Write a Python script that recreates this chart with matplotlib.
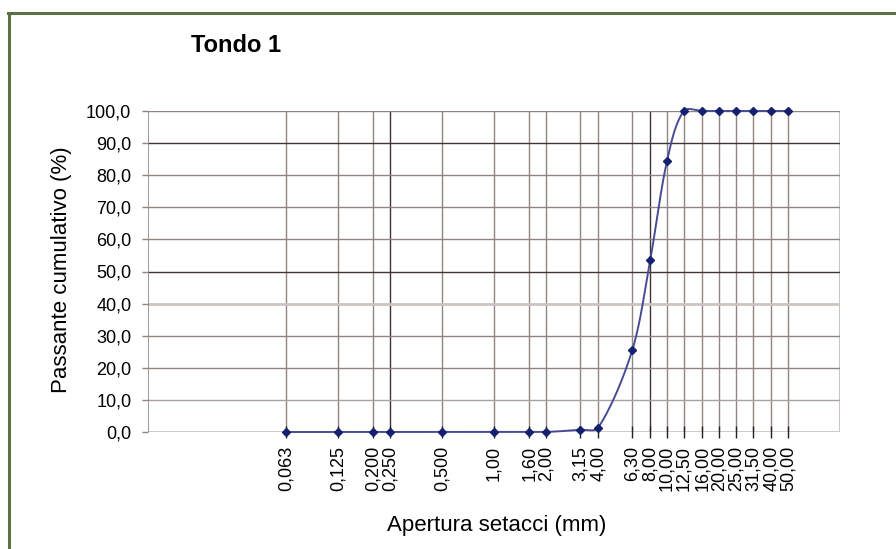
import numpy as np
import matplotlib
matplotlib.use("Agg")
import matplotlib.pyplot as plt
from matplotlib.lines import Line2D

plt.rcParams['font.family'] = ['Liberation Sans', 'DejaVu Sans']

# ---- data ----
sieves = [0.063, 0.125, 0.200, 0.250, 0.500, 1.00, 1.60, 2.00, 3.15, 4.00,
          6.30, 8.00, 10.00, 12.50, 16.00, 20.00, 25.00, 31.50, 40.00, 50.00]
sieve_labels = ["0,063", "0,125", "0,200", "0,250", "0,500", "1,00", "1,60", "2,00",
                "3,15", "4,00", "6,30", "8,00", "10,00", "12,50", "16,00", "20,00",
                "25,00", "31,50", "40,00", "50,00"]
passing = [0.0, 0.0, 0.0, 0.0, 0.0, 0.0, 0.0, 0.0, 0.7, 1.3,
           25.5, 53.6, 84.4, 100.0, 100.0, 100.0, 100.0, 100.0, 100.0, 100.0]
y_ticks = [0, 10, 20, 30, 40, 50, 60, 70, 80, 90, 100]
y_labels = ["0,0", "10,0", "20,0", "30,0", "40,0", "50,0", "60,0", "70,0", "80,0", "90,0", "100,0"]
title = "Tondo 1"
xlabel = "Apertura setacci (mm)"
ylabel = "Passante cumulativo (%)"

W, H = 896, 549
fig = plt.figure(figsize=(W / 100, H / 100), dpi=100)
ax_l, ax_r, ax_t, ax_b = 148, 840, 111, 432
ax = fig.add_axes([ax_l / W, 1 - ax_b / H, (ax_r - ax_l) / W, (ax_b - ax_t) / H])
ax.set_xscale('log')
ax.set_xlim(0.01, 100)
ax.set_ylim(0, 100)

# gridlines
grid_med = '#8f8682'
grid_dark = '#3e3431'
grid_light = '#cbc4c0'
dark_x = {0.250, 8.00}
for s in sieves:
    c = grid_dark if s in dark_x else grid_med
    ax.axvline(s, color=c, lw=1.0, zorder=1)
ax.axvline(100, color=grid_light, lw=1.5, zorder=1)
ycol = {0: grid_light, 10: '#aaa29e', 40: grid_light, 50: grid_dark, 90: grid_dark}
for yv in y_ticks:
    c = ycol.get(yv, grid_med)
    lw = 2.0 if c == grid_light else 1.0
    ax.axhline(yv, color=c, lw=lw, zorder=1)
ax.axvline(0.01, color=grid_med, lw=1.2, zorder=1)

for sp in ax.spines.values():
    sp.set_visible(False)

# smoothed curve (Bezier smoothing, like a spreadsheet "smoothed line") in pixel space
px_per_dec = (ax_r - ax_l) / 4.0
px_per_unit = (ax_b - ax_t) / 100.0
P = np.column_stack([np.log10(sieves) * px_per_dec, np.array(passing) * px_per_unit])
n = len(P)
T = np.zeros_like(P)
for i in range(n):
    a = P[i - 1] if i > 0 else P[i]
    b = P[i + 1] if i + 1 < n else P[i]
    d = b - a
    T[i] = d / (np.linalg.norm(d) + 1e-12)
curve = []
for i in range(n - 1):
    p1, p2 = P[i], P[i + 1]
    L = np.linalg.norm(p2 - p1)
    c1 = p1 + T[i] * L * 0.3
    c2 = p2 - T[i + 1] * L * 0.3
    t = np.linspace(0, 1, 30)[:, None]
    seg = ((1 - t) ** 3) * p1 + 3 * ((1 - t) ** 2) * t * c1 + 3 * (1 - t) * t ** 2 * c2 + t ** 3 * p2
    curve.append(seg)
curve = np.vstack(curve)
cx = 10 ** (curve[:, 0] / px_per_dec)
cy = curve[:, 1] / px_per_unit
ax.plot(cx, cy, color='#474b95', lw=1.4, zorder=3, clip_on=False)
ax.plot(sieves, passing, linestyle='none', marker='D', ms=4.5, color='#15206e', zorder=4, clip_on=False)

# ticks
ax.set_xticks(sieves)
ax.set_xticklabels(sieve_labels, rotation=90, fontsize=13, va='top')
ax.xaxis.set_minor_locator(matplotlib.ticker.NullLocator())
ax.tick_params(axis='x', direction='inout', length=8, width=1.0, color='#222222', pad=6)
ax.set_yticks(y_ticks)
ax.set_yticklabels(y_labels, fontsize=13)
ax.tick_params(axis='y', direction='out', length=4, width=1.0, color=grid_med, pad=8)

fig.text(497 / W, 1 - 525 / H, xlabel, fontsize=16, ha='center', va='center')
fig.text(62 / W, 1 - 270 / H, ylabel, fontsize=16, ha='center', va='center', rotation=90)
fig.text(236 / W, 1 - 46 / H, title, fontsize=17, fontweight='bold', ha='center', va='center')

# green outer frame (top and left visible)
green = '#5b7246'
fig.add_artist(Line2D([8 / W, 1], [1 - 12.5 / H, 1 - 12.5 / H], color=green, lw=2.2, transform=fig.transFigure))
fig.add_artist(Line2D([8.5 / W, 8.5 / W], [0, 1 - 12.5 / H], color=green, lw=2.2, transform=fig.transFigure))

fig.savefig('out.png', dpi=100)
